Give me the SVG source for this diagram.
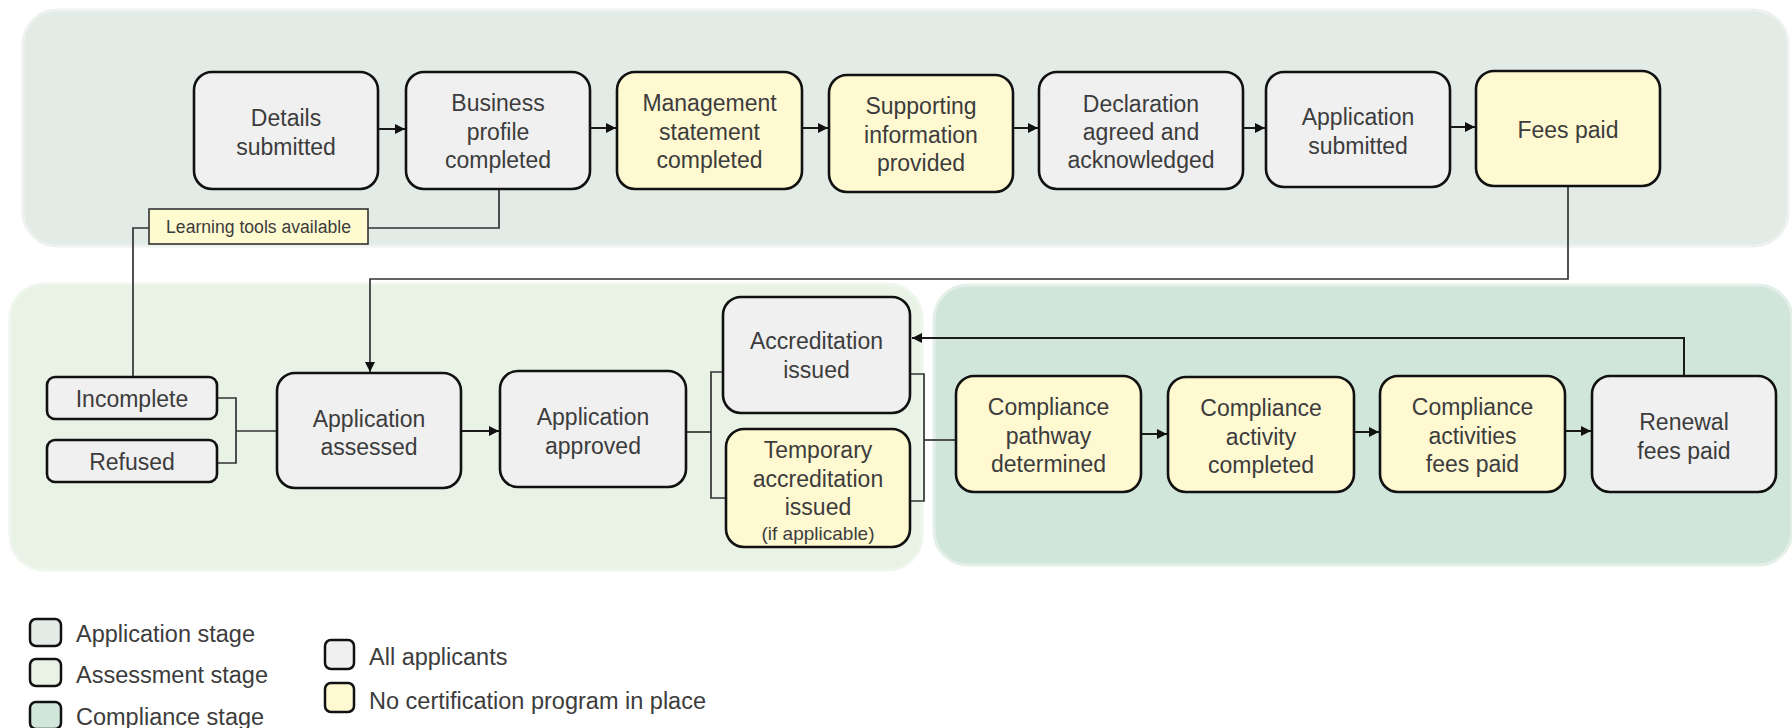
<svg xmlns="http://www.w3.org/2000/svg" width="1792" height="728" viewBox="0 0 1792 728">
  <style>
    .stage-app { fill: #e2ebe6; stroke: #edf2ef; stroke-width: 3; }
    .stage-assess { fill: #e8f3e6; stroke: #eff6ed; stroke-width: 3; }
    .stage-comp { fill: #d0e6db; stroke: #e3efe8; stroke-width: 3; }
    .node rect { stroke: #111; stroke-width: 2.6; }
    .all rect { fill: #f0f0f0; }
    .ncp rect { fill: #fff9d2; }
    text { font-family: "Liberation Sans", Arial, sans-serif; fill: #3c3c3c; }
    .lbl { font-size: 23px; text-anchor: middle; }
    .small { font-size: 19px; text-anchor: middle; }
    .note { font-size: 17.6px; text-anchor: middle; }
    .leg { font-size: 23.5px; }
    .flow { fill: none; stroke: #1a1a1a; stroke-width: 2; }
    .link { fill: none; stroke: #333; stroke-width: 1.7; }
    .sw { stroke: #111; stroke-width: 2.5; }
  </style>
  <defs>
    <marker id="arrow" markerUnits="userSpaceOnUse" markerWidth="11" markerHeight="10" refX="10" refY="5" orient="auto">
      <path d="M0,0 L10,5 L0,10 z" fill="#111"/>
    </marker>
  </defs>

  <!-- stage panels -->
  <g id="stages">
    <rect class="stage-app" x="23" y="10" width="1765" height="236" rx="34"/>
    <rect class="stage-assess" x="10" y="284" width="912" height="286" rx="34"/>
    <rect class="stage-comp" x="934" y="285" width="858" height="280" rx="34"/>
  </g>

  <!-- connectors -->
  <g id="connectors">
    <path class="flow" d="M378,129 H405" marker-end="url(#arrow)"/>
    <path class="flow" d="M590,128 H616" marker-end="url(#arrow)"/>
    <path class="flow" d="M802,128 H828" marker-end="url(#arrow)"/>
    <path class="flow" d="M1013,128 H1038" marker-end="url(#arrow)"/>
    <path class="flow" d="M1243,128 H1265" marker-end="url(#arrow)"/>
    <path class="flow" d="M1450,127 H1475" marker-end="url(#arrow)"/>
    <path class="link" d="M499,189 V228 H368"/>
    <path class="link" d="M149,228 H133 V377"/>
    <path class="link" d="M1568,186 V279 H370 V372" marker-end="url(#arrow)"/>
    <path class="link" d="M217,398 H236 V463 H217"/>
    <path class="link" d="M236,431 H277"/>
    <path class="flow" d="M461,431 H499" marker-end="url(#arrow)"/>
    <path class="link" d="M686,432 H711"/>
    <path class="link" d="M723,372 H711 V498 H726"/>
    <path class="link" d="M910,374 H924 V501 H910"/>
    <path class="link" d="M924,440 H956"/>
    <path class="flow" d="M1141,434 H1167" marker-end="url(#arrow)"/>
    <path class="flow" d="M1354,432 H1379" marker-end="url(#arrow)"/>
    <path class="flow" d="M1565,431 H1591" marker-end="url(#arrow)"/>
    <path class="flow" d="M1684,376 V338 H912" marker-end="url(#arrow)"/>
  </g>

  <!-- application stage -->
  <g id="details-submitted" class="node all">
    <rect x="194" y="72" width="184" height="117" rx="18"/>
    <text class="lbl" x="286" y="126">Details</text>
    <text class="lbl" x="286" y="155">submitted</text>
  </g>
  <g id="business-profile" class="node all">
    <rect x="406" y="72" width="184" height="117" rx="18"/>
    <text class="lbl" x="498" y="111">Business</text>
    <text class="lbl" x="498" y="140">profile</text>
    <text class="lbl" x="498" y="168">completed</text>
  </g>
  <g id="management-statement" class="node ncp">
    <rect x="617" y="72" width="185" height="117" rx="18"/>
    <text class="lbl" x="709.5" y="111">Management</text>
    <text class="lbl" x="709.5" y="140">statement</text>
    <text class="lbl" x="709.5" y="168">completed</text>
  </g>
  <g id="supporting-information" class="node ncp">
    <rect x="829" y="75" width="184" height="117" rx="18"/>
    <text class="lbl" x="921" y="114">Supporting</text>
    <text class="lbl" x="921" y="143">information</text>
    <text class="lbl" x="921" y="171">provided</text>
  </g>
  <g id="declaration" class="node all">
    <rect x="1039" y="72" width="204" height="117" rx="18"/>
    <text class="lbl" x="1141" y="112">Declaration</text>
    <text class="lbl" x="1141" y="140">agreed and</text>
    <text class="lbl" x="1141" y="168">acknowledged</text>
  </g>
  <g id="application-submitted" class="node all">
    <rect x="1266" y="72" width="184" height="115" rx="18"/>
    <text class="lbl" x="1358" y="125">Application</text>
    <text class="lbl" x="1358" y="154">submitted</text>
  </g>
  <g id="fees-paid" class="node ncp">
    <rect x="1476" y="71" width="184" height="115" rx="18"/>
    <text class="lbl" x="1568" y="138">Fees paid</text>
  </g>
  <g id="learning-tools">
    <rect x="149" y="209" width="219" height="35" fill="#fffbd0" stroke="#333" stroke-width="1.6"/>
    <text class="note" x="258.5" y="233">Learning tools available</text>
  </g>

  <!-- assessment stage -->
  <g id="incomplete" class="node all">
    <rect x="47" y="377" width="170" height="42" rx="8"/>
    <text class="lbl" x="132" y="407">Incomplete</text>
  </g>
  <g id="refused" class="node all">
    <rect x="47" y="440" width="170" height="42" rx="8"/>
    <text class="lbl" x="132" y="470">Refused</text>
  </g>
  <g id="application-assessed" class="node all">
    <rect x="277" y="373" width="184" height="115" rx="18"/>
    <text class="lbl" x="369" y="427">Application</text>
    <text class="lbl" x="369" y="455">assessed</text>
  </g>
  <g id="application-approved" class="node all">
    <rect x="500" y="371" width="186" height="116" rx="18"/>
    <text class="lbl" x="593" y="425">Application</text>
    <text class="lbl" x="593" y="454">approved</text>
  </g>
  <g id="accreditation-issued" class="node all">
    <rect x="723" y="297" width="187" height="116" rx="18"/>
    <text class="lbl" x="816.5" y="349">Accreditation</text>
    <text class="lbl" x="816.5" y="378">issued</text>
  </g>
  <g id="temporary-accreditation" class="node ncp">
    <rect x="726" y="429" width="184" height="118" rx="18"/>
    <text class="lbl" x="818" y="458">Temporary</text>
    <text class="lbl" x="818" y="487">accreditation</text>
    <text class="lbl" x="818" y="515">issued</text>
    <text class="small" x="818" y="540">(if applicable)</text>
  </g>

  <!-- compliance stage -->
  <g id="compliance-pathway" class="node ncp">
    <rect x="956" y="376" width="185" height="116" rx="18"/>
    <text class="lbl" x="1048.5" y="415">Compliance</text>
    <text class="lbl" x="1048.5" y="444">pathway</text>
    <text class="lbl" x="1048.5" y="472">determined</text>
  </g>
  <g id="compliance-activity" class="node ncp">
    <rect x="1168" y="377" width="186" height="115" rx="18"/>
    <text class="lbl" x="1261" y="416">Compliance</text>
    <text class="lbl" x="1261" y="445">activity</text>
    <text class="lbl" x="1261" y="473">completed</text>
  </g>
  <g id="compliance-fees" class="node ncp">
    <rect x="1380" y="376" width="185" height="116" rx="18"/>
    <text class="lbl" x="1472.5" y="415">Compliance</text>
    <text class="lbl" x="1472.5" y="444">activities</text>
    <text class="lbl" x="1472.5" y="472">fees paid</text>
  </g>
  <g id="renewal-fees" class="node all">
    <rect x="1592" y="376" width="184" height="116" rx="18"/>
    <text class="lbl" x="1684" y="430">Renewal</text>
    <text class="lbl" x="1684" y="459">fees paid</text>
  </g>

  <!-- legend -->
  <g id="legend">
    <rect class="sw" x="30" y="619" width="31" height="27" rx="6" fill="#e2ebe6"/>
    <text class="leg" x="76" y="642">Application stage</text>
    <rect class="sw" x="30" y="659" width="31" height="27" rx="6" fill="#e8f3e6"/>
    <text class="leg" x="76" y="683">Assessment stage</text>
    <rect class="sw" x="30" y="702" width="31" height="27" rx="6" fill="#d0e6db"/>
    <text class="leg" x="76" y="725">Compliance stage</text>
    <rect class="sw" x="325" y="640" width="29" height="29" rx="6" fill="#f0f0f0"/>
    <text class="leg" x="369" y="665">All applicants</text>
    <rect class="sw" x="325" y="683" width="29" height="29" rx="6" fill="#fff9d2"/>
    <text class="leg" x="369" y="709">No certification program in place</text>
  </g>
</svg>
